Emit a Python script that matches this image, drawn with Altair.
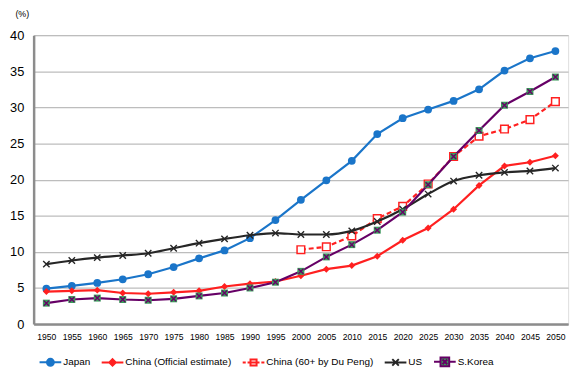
import altair as alt
import pandas as pd

years = list(range(1950, 2051, 5))
japan = [4.9, 5.3, 5.7, 6.2, 6.9, 7.9, 9.1, 10.2, 11.9, 14.4, 17.2, 19.9, 22.6, 26.3, 28.5, 29.7, 30.9, 32.5, 35.1, 36.8, 37.8]
china = [4.5, 4.6, 4.7, 4.3, 4.2, 4.4, 4.6, 5.2, 5.6, 5.9, 6.7, 7.6, 8.1, 9.4, 11.6, 13.3, 15.9, 19.2, 21.9, 22.4, 23.3]
dupeng = [None] * 10 + [10.3, 10.7, 12.2, 14.6, 16.3, 19.4, 23.2, 26.0, 27.0, 28.3, 30.8]
us = [8.3, 8.8, 9.2, 9.5, 9.8, 10.5, 11.2, 11.8, 12.3, 12.6, 12.4, 12.4, 12.9, 14.2, 15.9, 18.0, 19.8, 20.6, 21.0, 21.2, 21.6]
korea = [2.9, 3.4, 3.6, 3.4, 3.3, 3.5, 3.9, 4.3, 5.0, 5.8, 7.3, 9.3, 11.0, 13.0, 15.5, 19.3, 23.2, 26.8, 30.3, 32.2, 34.2]

series_names = ["Japan", "China (Official estimate)", "China (60+ by Du Peng)", "US", "S.Korea"]
series_values = [japan, china, dupeng, us, korea]

BLUE = "#1a75c9"
RED = "#ff2020"
BLACK = "#262626"
PURPLE = "#660066"
GREEN = "#3c9a5c"
FONT = "Liberation Sans"

rows = []
for name, vals in zip(series_names, series_values):
    for yr, v in zip(years, vals):
        if v is not None:
            rows.append({"year": yr, "value": v, "series": name})
df = pd.DataFrame(rows)

x_enc = alt.X(
    "year:Q",
    scale=alt.Scale(domain=[1947.5, 2052.5], nice=False, zero=False),
    axis=alt.Axis(values=years, format="d", title=None, grid=False, ticks=False,
                  labelPadding=9, labelFontSize=8.7, labelFlush=False, labelFont=FONT,
                  labelColor="#000000", domainColor="#8c8c8c", domainWidth=2.5),
)
y_enc = alt.Y(
    "value:Q",
    scale=alt.Scale(domain=[0, 40], nice=False),
    axis=alt.Axis(values=list(range(0, 41, 5)), title="(%)", titleAngle=0,
                  titleX=-12, titleY=-22, titleAlign="center", titleBaseline="middle",
                  titleFontSize=9, titleFontWeight="normal", titleFont=FONT, titleColor="#000000",
                  ticks=False, labelPadding=10, labelFontSize=13, labelFont=FONT,
                  labelColor="#000000", gridColor="#bdbdbd", gridWidth=1.2,
                  domainColor="#8c8c8c", domainWidth=2.5),
)

base = alt.Chart(df)
X_PATH = "M-1,-1L1,1M-1,1L1,-1"

def sel(name):
    return base.transform_filter(alt.datum.series == name)

layers = []
# Japan
layers.append(sel("Japan").mark_line(color=BLUE, strokeWidth=2.2).encode(x=x_enc, y=y_enc))
layers.append(sel("Japan").mark_point(shape="circle", filled=True, color=BLUE, size=62, opacity=1).encode(x=x_enc, y=y_enc))
# China official
layers.append(sel("China (Official estimate)").mark_line(color=RED, strokeWidth=2.2).encode(x=x_enc, y=y_enc))
layers.append(sel("China (Official estimate)").mark_point(shape="diamond", filled=True, color=RED, size=50, opacity=1).encode(x=x_enc, y=y_enc))
# China Du Peng
layers.append(sel("China (60+ by Du Peng)").mark_line(color=RED, strokeWidth=2.2, strokeDash=[5, 3]).encode(x=x_enc, y=y_enc))
layers.append(sel("China (60+ by Du Peng)").mark_point(shape="square", filled=False, fill="#ffffff", stroke=RED, strokeWidth=1.5, size=60, opacity=1).encode(x=x_enc, y=y_enc))
# US
layers.append(sel("US").mark_line(color=BLACK, strokeWidth=2.2, interpolate="monotone").encode(x=x_enc, y=y_enc))
layers.append(sel("US").mark_point(shape=X_PATH, filled=False, stroke=BLACK, strokeWidth=1.4, size=42, opacity=1).encode(x=x_enc, y=y_enc))
# S.Korea
layers.append(sel("S.Korea").mark_line(color=PURPLE, strokeWidth=2.2).encode(x=x_enc, y=y_enc))
layers.append(sel("S.Korea").mark_point(shape="square", filled=True, color=GREEN, size=50, opacity=1).encode(x=x_enc, y=y_enc))
layers.append(sel("S.Korea").mark_point(shape=X_PATH, filled=False, stroke=PURPLE, strokeWidth=1.4, size=26, opacity=1).encode(x=x_enc, y=y_enc))

# legend symbols: line + marker
legend_paths = [
    "M-1,0H1M-0.32,0A0.32,0.32 0 1,0 0.32,0A0.32,0.32 0 1,0 -0.32,0Z",
    "M-1,0H1M0,-0.3L0.3,0L0,0.3L-0.3,0Z",
    "M-1,0H-0.72M-0.55,0H-0.3M0.3,0H0.55M0.72,0H1M-0.28,-0.28H0.28V0.28H-0.28ZM-0.28,0H0.28",
    "M-1,0H1M-0.3,-0.3L0.3,0.3M-0.3,0.3L0.3,-0.3",
    "M-1,0H-0.4M0.4,0H1M-0.4,-0.4H0.4V0.4H-0.4ZM-0.22,-0.22L0.22,0.22M-0.22,0.22L0.22,-0.22",
]
legend_strokes = [BLUE, RED, RED, BLACK, PURPLE]
legend_fills = [BLUE, RED, "#ffffff", "#ffffff", GREEN]

leg = alt.Legend(title=None, orient="none", legendX=5, legendY=319, direction="horizontal",
                 symbolSize=484, symbolStrokeWidth=2, labelFontSize=10.1, labelFont=FONT,
                 labelColor="#000000", labelOffset=1, columnPadding=7, labelLimit=400)

legend_layer = base.transform_filter("false").mark_point(filled=True, size=484, opacity=1).encode(
    x=x_enc, y=y_enc,
    shape=alt.Shape("series:N", scale=alt.Scale(domain=series_names, range=legend_paths), legend=leg),
    stroke=alt.Stroke("series:N", scale=alt.Scale(domain=series_names, range=legend_strokes), legend=leg),
    fill=alt.Fill("series:N", scale=alt.Scale(domain=series_names, range=legend_fills), legend=leg),
)
layers.append(legend_layer)

chart = alt.layer(*layers).properties(
    width=542, height=293,
    autosize=alt.AutoSizeParams(type="none"),
    padding={"left": 26, "top": 25, "right": 9, "bottom": 42},
).configure_view(stroke=None).configure(background="#ffffff")

chart.save("out.html", embed_options={"renderer": "svg", "actions": False})
